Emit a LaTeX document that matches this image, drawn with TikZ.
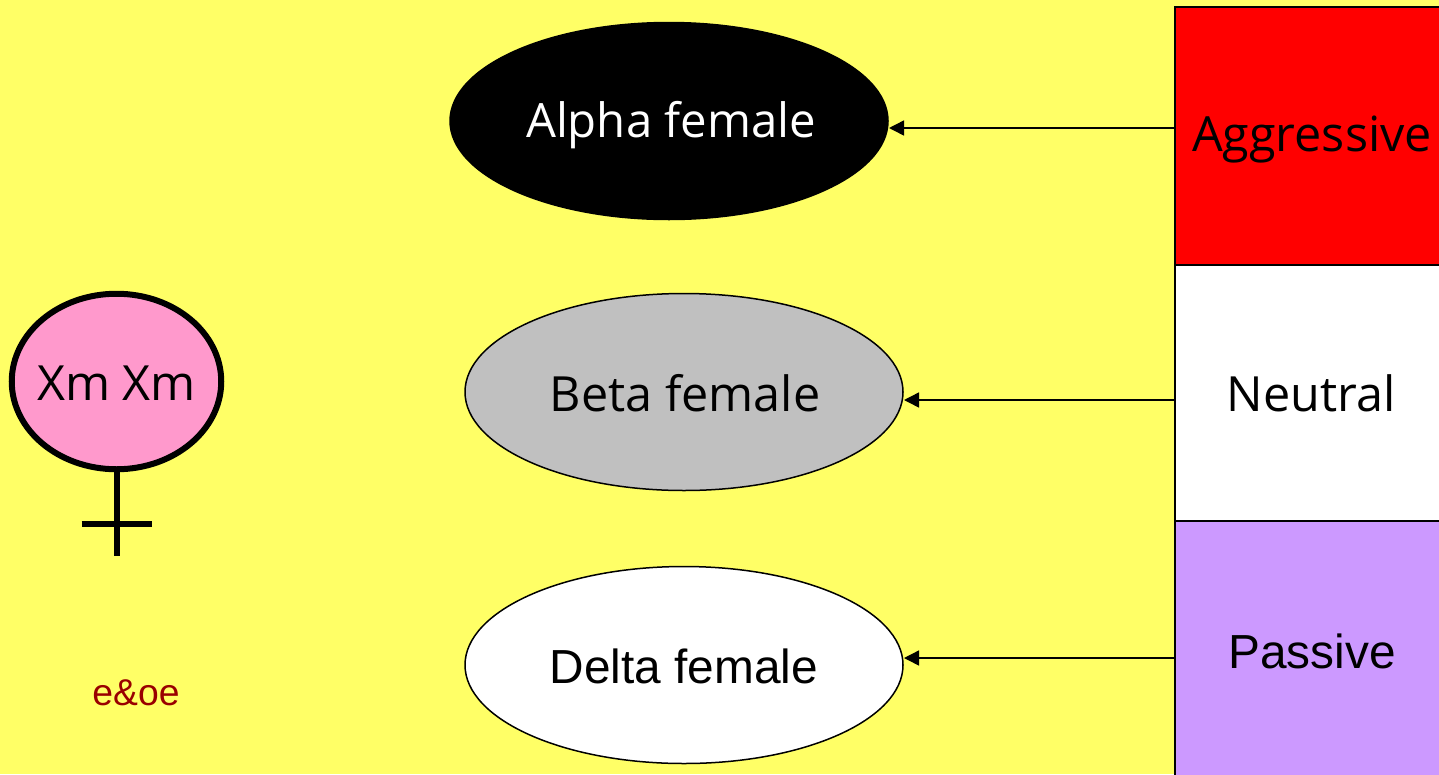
\documentclass[tikz,border=0pt]{standalone}
\usepackage{fontspec}
\setmainfont{Liberation Sans}
\newfontfamily\comicfont{Open Sans}
\usetikzlibrary{shapes.geometric,arrows.meta}
\definecolor{bgy}{RGB}{255,255,102}
\definecolor{pinkf}{RGB}{255,153,204}
\definecolor{lilac}{RGB}{204,153,255}
\definecolor{greyf}{RGB}{192,192,192}
\definecolor{darkr}{RGB}{153,0,0}
\tikzset{
 x=1pt,y=-1pt,
 oval/.style={draw=black,ellipse,line width=1.5pt,minimum width=438pt,minimum height=197pt,inner sep=0pt},
 panel/.style={draw=black,line width=1.5pt,minimum width=300pt,inner sep=0pt,outer sep=0pt,anchor=north west},
 link/.style={draw=black,line width=1.5pt,-{Triangle[length=15pt,width=15pt]}},
 comic/.style={font=\comicfont\fontsize{48.5}{52}\selectfont},
 arial/.style={font=\fontsize{47.8}{52}\selectfont},
 sym/.style={draw=black,line width=6pt}
}
\begin{document}
\begin{tikzpicture}
\useasboundingbox (0,0) rectangle (1439,774);
\fill[bgy] (0,0) rectangle (1439,774);
\node[panel,fill=red,minimum height=258pt] (pa) at (1175,7) {};
\node[panel,fill=white,minimum height=256pt] (pb) at (1175,265) {};
\node[panel,fill=lilac,minimum height=260pt] (pc) at (1175,521) {};
\node[oval,fill=black] (a) at (669,121) {};
\node[oval,fill=greyf] (b) at (684,392) {};
\node[oval,fill=white] (c) at (684,665) {};
\node[comic,text=white,font=\comicfont\fontsize{47.3}{52}\selectfont] (ta0) at (671,125) {Alpha female};
\node[comic] (tb0) at (685,393) {Beta female};
\node[arial] (tc0) at (684,666) {Delta female};
\node[comic] (pat) at (1312,140) {Aggressive};
\node[comic] (pbt) at (1311,393) {Neutral};
\node[arial] (pct) at (1312,651) {Passive};
\coordinate (fa) at (1175,128);
\coordinate (fb) at (1175,400);
\coordinate (fc) at (1175,658);
\coordinate (ta) at (889,128);
\coordinate (tb) at (904,400);
\coordinate (tc) at (904,658);
\draw[link] (fa) -- (ta);
\draw[link] (fb) -- (tb);
\draw[link] (fc) -- (tc);
\node[draw=black,line width=6pt,fill=pinkf,ellipse,minimum width=209.5pt,minimum height=175.5pt,inner sep=0pt] (x) at (116.5,381.5) {};
\node[comic] (xt) at (116.5,383) {Xm Xm};
\coordinate (s) at (116.5,556);
\coordinate (l) at (81.5,523.5);
\coordinate (r) at (151.5,523.5);
\draw[sym] (x.south) -- (s);
\draw[sym] (l) -- (r);
\node[text=darkr,font=\fontsize{37.3}{40}\selectfont] (e) at (136,693) {e\&oe};
\end{tikzpicture}
\end{document}
